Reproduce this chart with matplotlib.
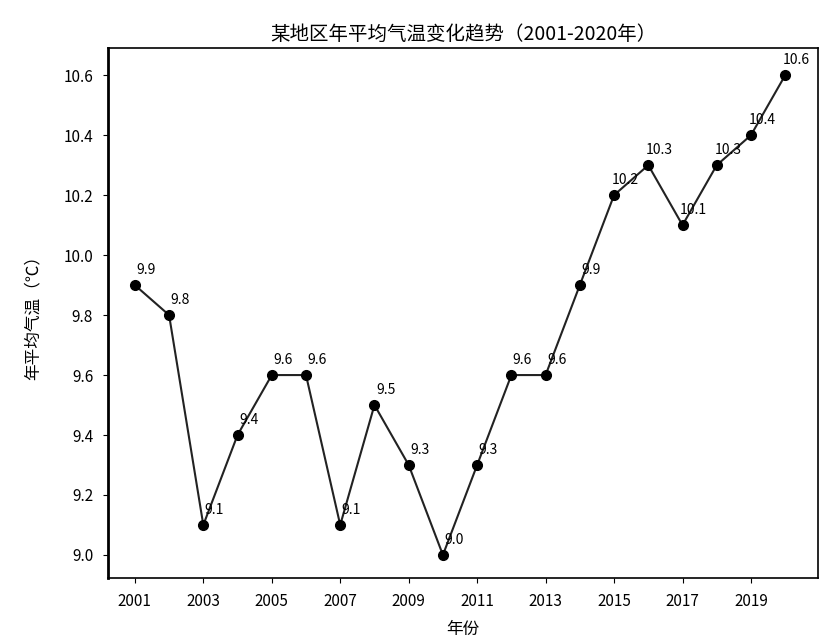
import numpy as np
import matplotlib
matplotlib.use('Agg')
import matplotlib.pyplot as plt

plt.rcParams['font.family'] = ['Noto Sans CJK SC', 'DejaVu Sans']
plt.rcParams['axes.unicode_minus'] = False

# annual mean temperature, 2001-2020
years = list(range(2001, 2021))
temps = [9.9, 9.8, 9.1, 9.4, 9.6, 9.6, 9.1, 9.5, 9.3, 9.0,
         9.3, 9.6, 9.6, 9.9, 10.2, 10.3, 10.1, 10.3, 10.4, 10.6]
yticks = [9.0, 9.2, 9.4, 9.6, 9.8, 10.0, 10.2, 10.4, 10.6]

fig = plt.figure(figsize=(8.23, 6.43), dpi=100)
ax = fig.add_axes([0.131, 0.101, 0.863, 0.824])

x = np.arange(1, len(years) + 1)
ax.plot(x, temps, color='#222222', linewidth=1.5, marker='o',
        markersize=7, markerfacecolor='black', markeredgecolor='black')

# value labels
for xi, t in zip(x, temps):
    ax.annotate(f'{t:.1f}', (xi, t), xytext=(8, 6), textcoords='offset points',
                ha='center', va='bottom', fontsize=10, color='black')

ax.set_xlim(0.21, 20.96)
ax.set_ylim(8.923, 10.69)
ax.set_xticks(x[::2])
ax.set_xticklabels([str(y) for y in years[::2]])
ax.set_yticks(yticks)
ax.set_yticklabels([f'{v:.1f}' for v in yticks])
ax.tick_params(axis='both', labelsize=11, pad=7)

for side in ['left', 'right', 'top', 'bottom']:
    ax.spines[side].set_color('black')
    ax.spines[side].set_linewidth(1.2)
ax.spines['left'].set_linewidth(2.0)

ax.set_title('某地区年平均气温变化趋势（2001-2020年）', fontsize=14, pad=6)
ax.set_xlabel('年份', fontsize=12, labelpad=8)
ax.set_ylabel('年平均气温（℃）', fontsize=12, labelpad=16)

fig.savefig('out.png', dpi=100)
